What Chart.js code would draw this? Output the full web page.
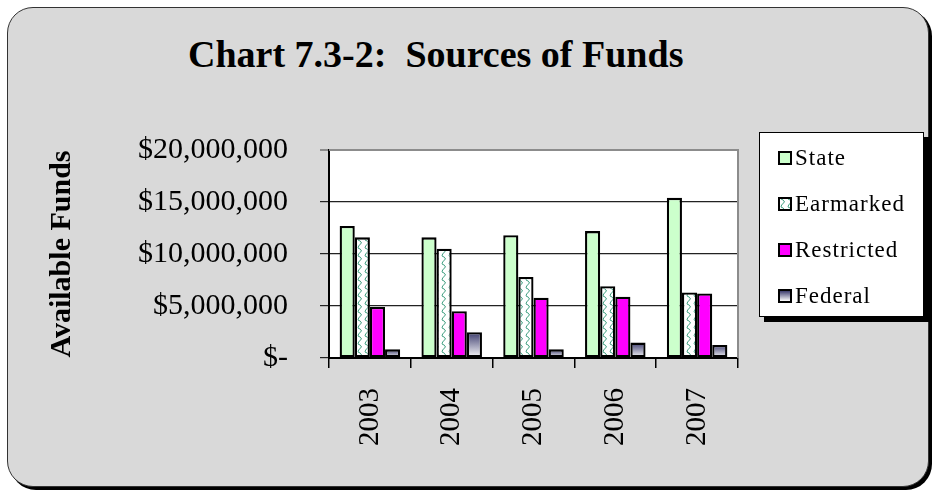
<!DOCTYPE html>
<html>
<head>
<meta charset="utf-8">
<script src="https://cdn.jsdelivr.net/npm/chart.js@4.4.1/dist/chart.umd.min.js"></script>
<style>
  html, body { margin: 0; background: #fff; }
  #wrap { position: relative; width: 936px; height: 493px; overflow: hidden;
          font-family: "Liberation Serif", "Times New Roman", serif; color: #000; }
  #frame { position: absolute; left: 7px; top: 7px; width: 922px; height: 480px; box-sizing: border-box;
           border: 1.5px solid #333; border-radius: 26px; background: #d9d9d9; box-shadow: 3px 3px 0 #000; }
  #title { position: absolute; left: 188px; top: 35px; font-size: 38px; font-weight: bold;
           line-height: 1; white-space: pre; }
  #chart { position: absolute; left: 0; top: 0; }
  #legend { position: absolute; left: 759px; top: 132px; width: 165px; height: 185px; box-sizing: border-box;
            background: #fff; border: 1.5px solid #000; box-shadow: 5px 5px 0 #000; padding-top: 2px; }
  .item { height: 46px; display: flex; align-items: center; padding-left: 18px;
          font-size: 23px; letter-spacing: 1px; }
  .sw { width: 14px; height: 14px; box-sizing: border-box; border: 2px solid #000; margin-right: 3px; flex: none; }
</style>
</head>
<body>
<div id="wrap">
  <div id="frame"></div>
  <div id="title">Chart 7.3-2:  Sources of Funds</div>
  <canvas id="chart" width="936" height="493"></canvas>
  <div id="legend"></div>
</div>
<script>
// values
const years = ["2003", "2004", "2005", "2006", "2007"];
const state = [12700000, 11600000, 11800000, 12200000, 15400000];
const earmarked = [11600000, 10500000, 7800000, 6900000, 6300000];
const restricted = [4900000, 4500000, 5800000, 5900000, 6200000];
const federal = [830000, 2470000, 830000, 1480000, 1250000];

// wavy teal fill for the Earmarked bars
function wavePattern() {
  const c = document.createElement("canvas");
  c.width = 7; c.height = 8;
  const g = c.getContext("2d");
  g.fillStyle = "#fff"; g.fillRect(0, 0, 7, 8);
  g.strokeStyle = "#3f9f80"; g.lineWidth = 1;
  g.beginPath();
  g.moveTo(1, 0);
  g.quadraticCurveTo(6, 2, 3.5, 4);
  g.quadraticCurveTo(1, 6, 1, 8);
  g.stroke();
  return c;
}
const waveCanvas = wavePattern();
const wave = document.createElement("canvas").getContext("2d").createPattern(waveCanvas, "repeat");

// dark-to-white gradient inside each Federal bar
function federalFill(c) {
  const ys = c.chart.scales.y;
  if (c.type !== "data" || !ys || c.raw == null) return "#8080a0";
  const top = ys.getPixelForValue(c.raw), base = ys.getPixelForValue(0);
  if (!isFinite(top) || !isFinite(base) || top === base) return "#8080a0";
  const g = c.chart.ctx.createLinearGradient(0, top, 0, base);
  g.addColorStop(0, "#3c3c6e");
  g.addColorStop(1, "#ffffff");
  return g;
}

const plotFrame = {
  id: "plotFrame",
  beforeDraw(chart) {
    const { ctx, chartArea: a } = chart;
    ctx.save();
    ctx.fillStyle = "#fff";
    ctx.fillRect(a.left, a.top, a.right - a.left, a.bottom - a.top);
    ctx.restore();
  },
  beforeDatasetsDraw(chart) {
    const { ctx, chartArea: a } = chart;
    ctx.save();
    ctx.strokeStyle = "#8c8c8c"; ctx.lineWidth = 2;
    ctx.beginPath();
    ctx.moveTo(a.left, a.top); ctx.lineTo(a.right, a.top); ctx.lineTo(a.right, a.bottom);
    ctx.stroke();
    ctx.restore();
  },
};

const serif = "'Liberation Serif', 'Times New Roman', serif";
const bar = { borderColor: "#000", borderWidth: 2.3, borderSkipped: false };

const chart = new Chart(document.getElementById("chart"), {
  type: "bar",
  data: {
    labels: years,
    datasets: [
      { label: "State", data: state, backgroundColor: "#ccffcc", swatch: "#ccffcc", ...bar },
      { label: "Earmarked", data: earmarked, backgroundColor: wave,
        swatch: `#fff url(${waveCanvas.toDataURL()})`, ...bar },
      { label: "Restricted", data: restricted, backgroundColor: "#ff00ff", swatch: "#ff00ff", ...bar },
      { label: "Federal", data: federal, backgroundColor: federalFill,
        swatch: "linear-gradient(#3c3c6e, #fff)", ...bar },
    ],
  },
  options: {
    responsive: false,
    animation: false,
    layout: { padding: { left: 40, right: 198, top: 150, bottom: 0 } },
    datasets: { bar: { categoryPercentage: 0.74, barPercentage: 1.0 } },
    plugins: { legend: { display: false }, tooltip: { enabled: false } },
    scales: {
      x: {
        afterFit: s => { s.height = 135; },
        border: { color: "#000", width: 2 },
        grid: { offset: true, drawOnChartArea: false, drawTicks: true, tickLength: 10, color: "#000", lineWidth: 1.5 },
        ticks: { minRotation: 90, maxRotation: 90, padding: 20, color: "#000",
                 font: { family: serif, size: 29 } },
      },
      y: {
        min: 0, max: 20000000,
        afterFit: s => { s.width = 289; },
        border: { color: "#000", width: 2 },
        grid: {
          tickLength: 9,
          color: c => (c.tick && c.tick.value === 20000000 ? "#8c8c8c" : "#222"),
          lineWidth: c => (c.tick && c.tick.value === 20000000 ? 2 : 1.2),
        },
        ticks: {
          stepSize: 5000000, padding: 32, color: "#000",
          font: { family: serif, size: 30 },
          callback: v => (v === 0 ? "$-" : "$" + v.toLocaleString("en-US")),
        },
        title: { display: true, text: "Available Funds", color: "#000",
                 font: { family: serif, size: 30, weight: "bold" } },
      },
    },
  },
  plugins: [plotFrame],
});

// legend box built from the chart's datasets
const legend = document.getElementById("legend");
chart.data.datasets.forEach(ds => {
  const item = document.createElement("div");
  item.className = "item";
  const sw = document.createElement("span");
  sw.className = "sw";
  sw.style.background = ds.swatch;
  item.appendChild(sw);
  item.appendChild(document.createTextNode(ds.label));
  legend.appendChild(item);
});
</script>
</body>
</html>
